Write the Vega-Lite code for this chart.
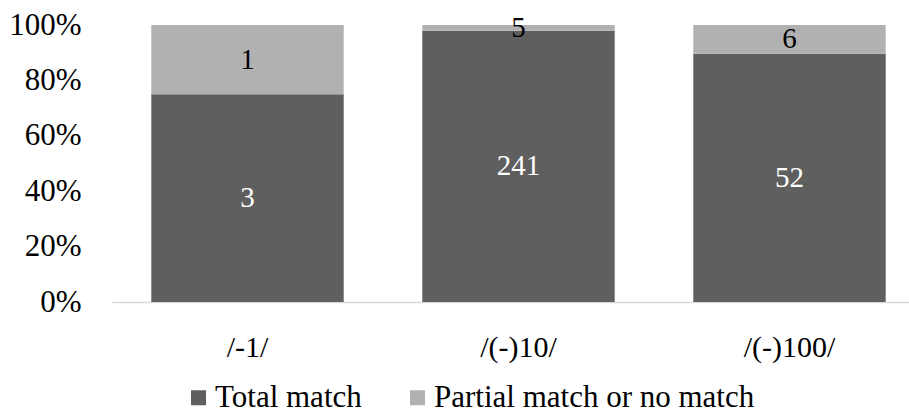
{
  "$schema": "https://vega.github.io/schema/vega-lite/v6.json",
  "autosize": "none",
  "width": 797,
  "height": 277,
  "padding": {"left": 112, "top": 25, "right": 0, "bottom": 112},
  "background": "white",
  "config": {
    "view": {"stroke": null},
    "font": "Liberation Serif"
  },
  "data": {
    "values": [
      {"category": "/-1/", "type": "Total match", "count": 3},
      {"category": "/-1/", "type": "Partial match or no match", "count": 1},
      {"category": "/(-)10/", "type": "Total match", "count": 241},
      {"category": "/(-)10/", "type": "Partial match or no match", "count": 5},
      {"category": "/(-)100/", "type": "Total match", "count": 52},
      {"category": "/(-)100/", "type": "Partial match or no match", "count": 6}
    ]
  },
  "encoding": {
    "x": {
      "field": "category",
      "type": "nominal",
      "sort": null,
      "title": null,
      "scale": {"range": [0, 813], "paddingInner": 0.29, "paddingOuter": 0.145},
      "axis": {
        "labelAngle": 0,
        "labelFont": "Liberation Serif",
        "labelFontSize": 30,
        "labelColor": "#000000",
        "labelPadding": 30,
        "ticks": false,
        "domainColor": "#d9d9d9",
        "domainWidth": 1.5
      }
    }
  },
  "layer": [
    {
      "mark": {"type": "bar"},
      "encoding": {
        "y": {
          "field": "count",
          "type": "quantitative",
          "stack": "normalize",
          "title": null,
          "scale": {"domain": [0, 1], "nice": false},
          "axis": {
            "format": ".0%",
            "values": [0, 0.2, 0.4, 0.6, 0.8, 1],
            "grid": false,
            "domain": false,
            "ticks": false,
            "labelFont": "Liberation Serif",
            "labelFontSize": 31,
            "labelColor": "#000000",
            "labelPadding": 31
          }
        },
        "order": {"field": "type", "sort": "descending"},
        "color": {
          "field": "type",
          "type": "nominal",
          "sort": ["Total match", "Partial match or no match"],
          "scale": {"domain": ["Total match", "Partial match or no match"], "range": ["#5f5f5f", "#b1b1b1"]},
          "legend": {
            "title": null,
            "orient": "none",
            "direction": "horizontal",
            "legendX": 71,
            "legendY": 357,
            "symbolType": "square",
            "symbolSize": 225,
            "symbolStrokeWidth": 0,
            "labelFont": "Liberation Serif",
            "labelFontSize": 31,
            "labelColor": "#000000",
            "labelOffset": 1,
            "columnPadding": 40,
            "labelLimit": 500
          }
        }
      }
    },
    {
      "mark": {"type": "text", "fontSize": 29, "font": "Liberation Serif", "baseline": "middle"},
      "encoding": {
        "y": {"field": "count", "type": "quantitative", "stack": "normalize", "bandPosition": 0.5},
        "order": {"field": "type", "sort": "descending"},
        "detail": {"field": "type"},
        "text": {"field": "count", "type": "quantitative"},
        "color": {
          "condition": {"test": "datum.type === 'Total match'", "value": "#ffffff"},
          "value": "#000000"
        }
      }
    }
  ]
}
